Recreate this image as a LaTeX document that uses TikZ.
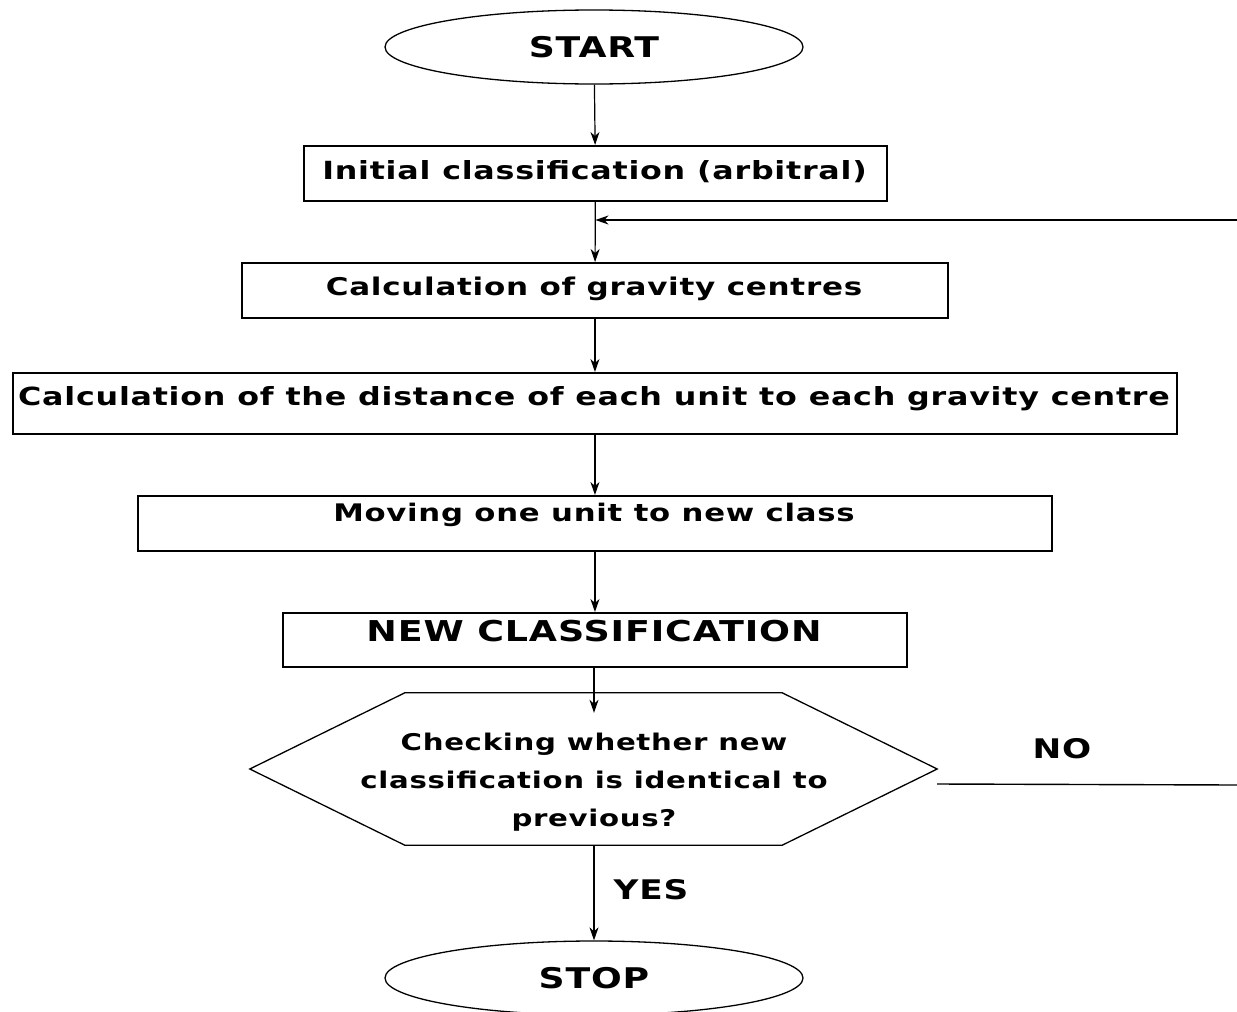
\documentclass[tikz,border=0pt]{standalone}
\usepackage{fontspec}
\setmainfont{DejaVu Sans}[FakeStretch=1.27,LetterSpace=3]
\usetikzlibrary{arrows.meta,shapes.geometric,calc}
\begin{document}
\begin{tikzpicture}[x=1pt,y=-1pt,
  font=\bfseries\fontsize{25}{36}\selectfont,
  box/.style={draw,line width=1.9pt,inner sep=0pt,anchor=north west},
  term/.style={draw,ellipse,line width=1.3pt,minimum width=418pt,minimum height=74pt,inner sep=0pt,font=\bfseries\fontsize{28.5}{30}\selectfont},
  arr/.style={line width=1.2pt,-{Stealth[length=13pt,width=9pt,inset=4pt]}},
  ln/.style={line width=1.4pt}]
\useasboundingbox (0,0) rectangle (1237,1012);
\node[term] (start) at (594,47) {START};
\node[box,minimum width=583pt,minimum height=55pt] (b1) at (303,145) {};
\node (t1) at (594.5,172) {Initial classification (arbitral)};
\node[box,minimum width=706pt,minimum height=55pt] (b2) at (241,262) {};
\node[font=\bfseries\fontsize{24.4}{36}\selectfont] (t2) at (594,289) {Calculation of gravity centres};
\node[box,minimum width=1164pt,minimum height=61pt] (b3) at (12,372) {};
\node (t3) at (594,399) {Calculation of the distance of each unit to each gravity centre};
\node[box,minimum width=914pt,minimum height=55pt] (b4) at (137,495) {};
\node[font=\bfseries\fontsize{24.2}{36}\selectfont] (t4) at (594,515) {Moving one unit to new class};
\node[box,minimum width=624pt,minimum height=54pt] (b5) at (282,612) {};
\node[font=\bfseries\fontsize{28.7}{36}\selectfont] (t5) at (594,631) {NEW CLASSIFICATION};
\node[minimum width=687pt,minimum height=152pt,inner sep=0pt] (chk) at (593.5,769) {};
\draw[line width=1.3pt] (chk.west) -- ($(chk.north west)+(155,0)$) -- ($(chk.north east)+(-155,0)$) -- (chk.east) -- ($(chk.south east)+(-155,0)$) -- ($(chk.south west)+(155,0)$) -- cycle;
\node[align=center,font=\bfseries\fontsize{23}{38}\selectfont] (tc) at (594,782) {Checking whether new\\classification is identical to\\previous?};
\node[font=\bfseries\fontsize{27}{30}\selectfont] (no) at (1062,749) {NO};
\node[font=\bfseries\fontsize{27}{30}\selectfont] (yes) at (651,890) {YES};
\node[term] (stop) at (594,978) {STOP};
\coordinate (fb) at (1237,220);
\coordinate (noend) at (1237,785);
\draw[arr] (start) -- (b1);
\draw[arr] (b1) -- (b2);
\draw[arr] (fb) -- (b1.south |- fb);
\draw[arr] (b2) -- (b3);
\draw[arr] (b3) -- (b4);
\draw[arr] (b4) -- (b5);
\draw[arr] (b5.south -| start) -- ($(chk.north -| start)+(0,20)$);
\draw[arr] (chk.south -| start) -- (stop);
\draw[ln] ($(chk.east)+(0,15)$) -- (noend);
\end{tikzpicture}
\end{document}
